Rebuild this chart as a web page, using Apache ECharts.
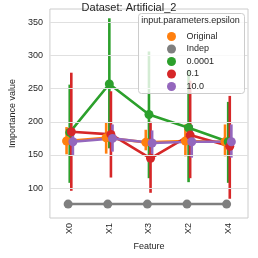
<!DOCTYPE html>
<html>
<head>
<meta charset="utf-8">
<script src="https://cdn.jsdelivr.net/npm/echarts@6/dist/echarts.min.js"></script>
<style>html,body{margin:0;padding:0;background:#fff}#c{width:258px;height:258px}</style>
</head>
<body>
<div id="c"></div>
<script>
var categories = ['X0', 'X1', 'X3', 'X2', 'X4'];
var hueNames = ['Original', 'Indep', '0.0001', '0.1', '10.0'];
var yTicks = [100, 150, 200, 250, 300, 350];

var meanOriginal = [171, 176, 169, 171, 170];
var lowOriginal  = [151, 152, 157, 148, 148];
var highOriginal = [192, 199, 188, 196, 196];

var meanIndep = [76, 76, 76, 76, 76];
var lowIndep  = [75, 75, 75, 75, 75];
var highIndep = [78, 78, 78, 78, 78];

var meanE0001 = [184, 257, 211, 191, 170];
var lowE0001  = [108, 160, 115, 109, 108];
var highE0001 = [256, 356, 306, 278, 230];

var meanE01 = [185, 181, 145, 180, 163];
var lowE01  = [96, 116, 93, 115, 84];
var highE01 = [274, 246, 200, 262, 239];

var meanE10 = [170, 175, 168, 170, 170];
var lowE10  = [150, 155, 150, 146, 146];
var highE10 = [186, 196, 187, 195, 196];

var means = [meanOriginal, meanIndep, meanE0001, meanE01, meanE10];
var lows = [lowOriginal, lowIndep, lowE0001, lowE01, lowE10];
var highs = [highOriginal, highIndep, highE0001, highE01, highE10];
var colors = ['#ff7f0e', '#7f7f7f', '#2ca02c', '#d62728', '#9467bd'];

var FONT = 'Liberation Sans, Arial, sans-serif';
var TXT = '#262626';
var step = 0.04;

var series = [];
series.push({
  name: '_grid', type: 'line', xAxisIndex: 1, yAxisIndex: 0, data: [], silent: true,
  markLine: {
    silent: true, symbol: 'none', animation: false,
    label: {show: false},
    lineStyle: {color: '#e0e0e0', type: 'solid', width: 1},
    data: yTicks.map(function (v) { return {yAxis: v}; })
  }
});

hueNames.forEach(function (name, h) {
  var off = (h - 2) * step;
  var col = colors[h];
  series.push({
    name: name, type: 'custom', xAxisIndex: 1, yAxisIndex: 0,
    itemStyle: {color: col},
    encode: {x: 0, y: [1, 2]},
    data: categories.map(function (c, i) { return [i + off, lows[h][i], highs[h][i]]; }),
    renderItem: function (params, api) {
      var x = api.value(0);
      var p1 = api.coord([x, api.value(1)]);
      var p2 = api.coord([x, api.value(2)]);
      return {type: 'line', shape: {x1: p1[0], y1: p1[1], x2: p2[0], y2: p2[1]},
        style: {stroke: col, lineWidth: 2.6}};
    }
  });
  series.push({
    name: name, type: 'line', xAxisIndex: 1, yAxisIndex: 0,
    data: categories.map(function (c, i) { return [i + off, means[h][i]]; }),
    symbol: 'circle', symbolSize: 9, showSymbol: true,
    itemStyle: {color: col},
    lineStyle: {color: col, width: 2.6}
  });
});

var chart = echarts.init(document.getElementById('c'));
chart.setOption({
  animation: false,
  backgroundColor: '#ffffff',
  title: {
    text: 'Dataset: Artificial_2', left: 'center', top: -3,
    textStyle: {fontFamily: FONT, fontSize: 11, fontWeight: 'normal', color: TXT}
  },
  grid: {left: 43, right: 10, top: 9, bottom: 40, show: true, borderColor: '#cccccc', borderWidth: 1, backgroundColor: 'transparent'},
  xAxis: [
    {
      type: 'category', data: categories, boundaryGap: true,
      name: 'Feature', nameLocation: 'middle', nameGap: 17,
      nameTextStyle: {fontFamily: FONT, fontSize: 9, color: TXT},
      axisLine: {show: false}, axisTick: {show: false}, splitLine: {show: false},
      axisLabel: {rotate: 90, margin: 5, fontFamily: FONT, fontSize: 9, color: TXT}
    },
    {type: 'value', show: false, min: -0.5, max: 4.5}
  ],
  yAxis: [{
    type: 'value', min: 55, max: 370, interval: 5,
    name: 'Importance value', nameLocation: 'middle', nameGap: 24,
    nameTextStyle: {fontFamily: FONT, fontSize: 9, color: TXT},
    axisLine: {show: false}, axisTick: {show: false}, splitLine: {show: false},
    axisLabel: {
      margin: 7, fontFamily: FONT, fontSize: 9, color: TXT,
      formatter: function (v) { return (yTicks.indexOf(v) >= 0) ? String(v) : ''; }
    }
  }],
  legend: {
    data: hueNames, orient: 'vertical', left: 162, top: 27, icon: 'circle',
    itemWidth: 20, itemHeight: 9, itemGap: 3.5, z: 20,
    textStyle: {fontFamily: FONT, fontSize: 9, color: TXT, lineHeight: 9}
  },
  graphic: [
    {type: 'rect', z: 15, shape: {x: 138.5, y: 13.5, width: 106, height: 80, r: 3},
      style: {fill: 'rgba(255,255,255,0.8)', stroke: '#cccccc', lineWidth: 1}},
    {type: 'text', z: 16, x: 190.5, y: 21, style: {text: 'input.parameters.epsilon', fontFamily: FONT, fontSize: 9, fill: TXT, align: 'center', verticalAlign: 'middle'}}
  ],
  series: series
});
</script>
</body>
</html>
